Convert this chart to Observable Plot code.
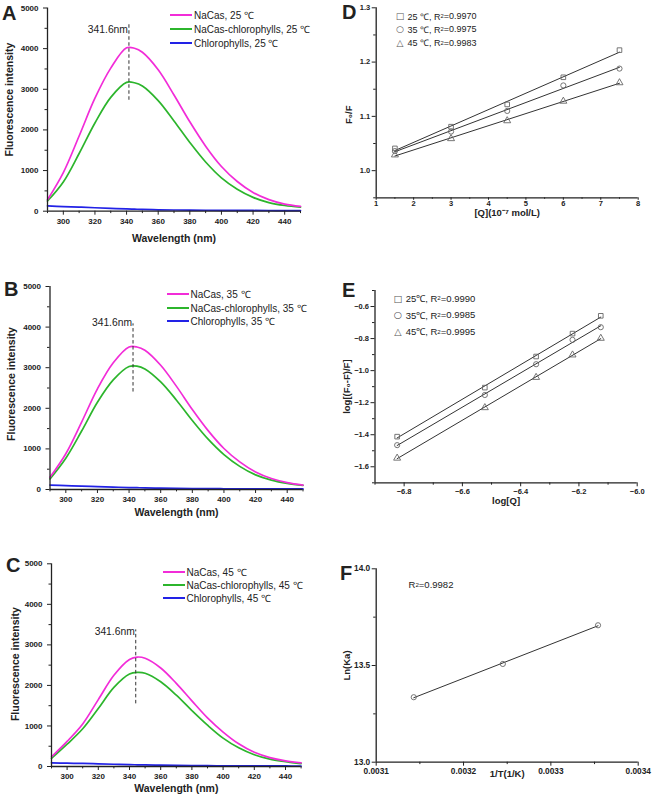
<!DOCTYPE html>
<html><head><meta charset="utf-8">
<script src="https://cdn.jsdelivr.net/npm/d3@7"></script>
<script src="https://cdn.jsdelivr.net/npm/@observablehq/plot@0.6"></script>
<style>
body{margin:0;background:#fff;}
#fig{position:relative;width:652px;height:798px;overflow:hidden;background:#fff;font-family:"Liberation Sans",Arial,Helvetica,sans-serif;color:#222;}
#fig svg{position:absolute;left:0;top:0;}
.plbl{position:absolute;font-weight:bold;font-size:20px;line-height:20px;}
.row{position:absolute;display:flex;align-items:center;white-space:nowrap;}
.sw{display:inline-block;height:0;border-top:2px solid;margin-right:2px;}
.sym{display:inline-block;width:10px;text-align:center;color:#555;font-family:"DejaVu Sans",sans-serif;}
sup{font-size:65%;vertical-align:0.45em;line-height:0;}
</style></head><body><div id="fig"></div>
<script>
const FONT = '"Liberation Sans", Arial, Helvetica, sans-serif';

// ---------- Panels A-C: fluorescence emission spectra ----------
const wavelength = [290,300,310,320,330,340,345,350,360,370,380,390,400,410,420,430,440,450];
const seriesNames = ["NaCas", "NaCas-chlorophylls", "Chlorophylls"];
const seriesColors = ["#f22cd8", "#2cb52c", "#2222e6"];
const temperatures = ["25 ℃", "35 ℃", "45 ℃"];

const nacas25 = [280, 950, 1850, 2780, 3520, 4020, 4010, 3910, 3480, 2860, 2200, 1600, 1100, 730, 460, 285, 175, 120];
const mix25   = [250, 720, 1420, 2170, 2800, 3170, 3160, 3080, 2720, 2220, 1690, 1210, 820, 540, 340, 210, 140, 100];
const chl25   = [130, 115, 100, 85, 70, 55, 50, 45, 35, 30, 26, 24, 22, 20, 18, 17, 16, 15];

const nacas35 = [300, 880, 1660, 2480, 3120, 3510, 3510, 3430, 3060, 2540, 1970, 1450, 1010, 680, 430, 270, 170, 110];
const mix35   = [260, 770, 1440, 2150, 2700, 3030, 3040, 2970, 2650, 2200, 1700, 1240, 860, 570, 360, 230, 150, 100];
const chl35   = [110, 95, 85, 72, 60, 48, 44, 40, 33, 28, 24, 21, 19, 17, 16, 15, 14, 13];

const nacas45 = [240, 620, 1050, 1650, 2250, 2640, 2700, 2670, 2430, 2050, 1620, 1200, 850, 560, 350, 220, 140, 90];
const mix45   = [200, 550, 930, 1430, 1950, 2280, 2320, 2300, 2090, 1760, 1380, 1020, 700, 460, 290, 180, 120, 70];
const chl45   = [90, 82, 75, 65, 55, 45, 42, 38, 32, 27, 23, 20, 18, 16, 15, 14, 13, 12];

const peakLabel = "341.6nm";
const peakX     = [341.5, 342.5, 344];
const dashLow   = [2730, 2400, 1545];
const dashHigh  = [4620, 4080, 3370];
const peakTextY = [4470, 4120, 3330];

const specXTicks = [300,320,340,360,380,400,420,440];
const specXMinor = [290,310,330,350,370,390,410,430,450];
const specYTicks = [0,1000,2000,3000,4000,5000];
const specYMinor = [500,1500,2500,3500,4500];

// ---------- Panel D: Stern-Volmer ----------
const qConc = [1.5, 3, 4.5, 6, 7.5];
const f0f25 = [1.041, 1.081, 1.122, 1.172, 1.222];
const f0f35 = [1.036, 1.072, 1.110, 1.157, 1.188];
const f0f45 = [1.029, 1.059, 1.092, 1.128, 1.162];
const dLegend = ["25 ℃, R<sup>2</sup>=0.9970", "35 ℃, R<sup>2</sup>=0.9975", "45 ℃, R<sup>2</sup>=0.9983"];
const dXTicks = [1,2,3,4,5,6,7,8];
const dXMinor = [1.5,2.5,3.5,4.5,5.5,6.5,7.5];
const dYTicks = [1.0,1.1,1.2,1.3];
const dYMinor = [0.95,1.05,1.15,1.25];

// ---------- Panel E: double log ----------
const logQ = [-6.824, -6.523, -6.347, -6.222, -6.125];
const dbl25 = [-1.412, -1.106, -0.912, -0.769, -0.658];
const dbl35 = [-1.465, -1.152, -0.960, -0.808, -0.729];
const dbl45 = [-1.546, -1.231, -1.042, -0.902, -0.798];
const eLegend = ["25℃, R<sup>2</sup>=0.9990", "35℃, R<sup>2</sup>=0.9985", "45℃, R<sup>2</sup>=0.9995"];
const eXTicks = [-6.8,-6.6,-6.4,-6.2,-6.0];
const eXMinor = [-6.9,-6.7,-6.5,-6.3,-6.1];
const eYTicks = [-1.6,-1.4,-1.2,-1.0,-0.8,-0.6];
const eYMinor = [-1.7,-1.5,-1.3,-1.1,-0.9,-0.7,-0.5];

// ---------- Panel F: van't Hoff ----------
const invT = [0.003143, 0.003245, 0.003354];
const lnKa = [13.336, 13.508, 13.708];
const fR2 = "R<sup>2</sup>=0.9982";
const fXTicks = [0.0031,0.0032,0.0033,0.0034];
const fXMinor = [0.00315,0.00325,0.00335];
const fYTicks = [13.0,13.5,14.0];
const fYMinor = [13.25,13.75];

const symbols = ["square", "circle", "triangle"];
const symbolGlyphs = ["□", "○", "△"];

const fig = document.getElementById("fig");

function panel(cfg) {
  const [x0, y0, x1, y1] = cfg.box;
  const svg = Plot.plot({
    width: 652, height: 798,
    marginLeft: x0, marginTop: y0, marginRight: 652 - x1, marginBottom: 798 - y1,
    x: {domain: cfg.xDomain, label: null},
    y: {domain: cfg.yDomain, label: null},
    style: {fontFamily: FONT, fontSize: cfg.tickFont + "px", fontWeight: "bold", color: "#222", background: "transparent", overflow: "visible"},
    marks: [
      ...cfg.marks,
      Plot.axisX(cfg.xMinor, {tickSize: cfg.xTick * 0.6, fill: "none", label: null}),
      Plot.axisX(cfg.xTicks, {tickSize: cfg.xTick, tickPadding: cfg.xPad, tickFormat: cfg.xFmt, label: null}),
      Plot.axisY(cfg.yMinor, {tickSize: 2.5, fill: "none", label: null}),
      Plot.axisY(cfg.yTicks, {tickSize: 4, tickPadding: cfg.yPad, tickFormat: cfg.yFmt, label: null}),
      Plot.ruleX(cfg.xDomain.slice(0, 1), {stroke: "#222", strokeWidth: 1.3}),
      Plot.ruleY(cfg.yDomain.slice(0, 1), {stroke: "#222", strokeWidth: 1.3}),
      Plot.text([cfg.xTitle], {text: d => d, frameAnchor: "bottom", dy: cfg.xTitleDy, textAnchor: "middle", lineAnchor: "middle", fontSize: cfg.titleFont, fontWeight: "bold"}),
      Plot.text([cfg.yTitle], {text: d => d, frameAnchor: "left", dx: cfg.yTitleDx, dy: cfg.yTitleDy, rotate: -90, textAnchor: "middle", lineAnchor: "middle", fontSize: cfg.titleFont, fontWeight: "bold"})
    ]
  });
  svg.style.position = "absolute";
  svg.style.left = "0px";
  svg.style.top = "0px";
  fig.appendChild(svg);
}

function letter(t, x, y) {
  const d = document.createElement("div");
  d.className = "plbl"; d.textContent = t;
  d.style.left = x + "px"; d.style.top = (y - 10) + "px";
  fig.appendChild(d);
}

function row(html, x, cy, fs) {
  const d = document.createElement("div");
  d.className = "row"; d.innerHTML = html;
  d.style.left = x + "px"; d.style.top = (cy - fs * 0.6) + "px";
  d.style.height = (fs * 1.2) + "px"; d.style.fontSize = fs + "px";
  fig.appendChild(d);
}

// spectra panels
const spectra = [[nacas25, mix25, chl25], [nacas35, mix35, chl35], [nacas45, mix45, chl45]];
const specBoxes = [[47, 7.5, 300, 210.7], [49.5, 286, 302.5, 489], [51, 563.3, 300.6, 766]];
const specTitleDy = [27.5, 23.5, 22.3];
const specYTitleDx = [-38, -38, -36];
const specYTitleDy = [-10, -4, -1];
const legendRows = [[15, 29.3, 42.7], [293.5, 307.7, 321.3], [571.7, 584.7, 597.7]];
const legendX = [170, 166.5, 162.5];

spectra.forEach((sets, p) => {
  const rows = [];
  sets.forEach((vals, s) => vals.forEach((v, i) => rows.push({wl: wavelength[i], v, series: seriesNames[s]})));
  const marks = [];
  [2, 1, 0].forEach(s => {
    marks.push(Plot.line(rows.filter(r => r.series === seriesNames[s]), {x: "wl", y: "v", stroke: seriesColors[s], strokeWidth: 1.7, curve: "catmull-rom"}));
  });
  const ann = [{x: peakX[p], lo: dashLow[p], hi: dashHigh[p], ty: peakTextY[p]}];
  marks.push(Plot.ruleX(ann, {x: "x", y1: "lo", y2: "hi", stroke: "#333", strokeWidth: 1, strokeDasharray: "3.5,2.5"}));
  marks.push(Plot.text(ann, {x: "x", y: "ty", text: () => peakLabel, textAnchor: "end", dx: -1, fontSize: 10.3, fontWeight: "normal"}));
  panel({
    box: specBoxes[p], xDomain: [290, 450], yDomain: [0, 5000],
    xTicks: specXTicks, xMinor: specXMinor, yTicks: specYTicks, yMinor: specYMinor,
    xFmt: d3.format("d"), yFmt: d3.format("d"), tickFont: 8, xTick: 4, xPad: 3, yPad: 5,
    xTitle: "Wavelength (nm)", yTitle: "Fluorescence intensity", titleFont: 10.5,
    xTitleDy: specTitleDy[p], yTitleDx: specYTitleDx[p], yTitleDy: specYTitleDy[p],
    marks
  });
  seriesNames.forEach((n, s) => {
    row(`<span class="sw" style="width:22px;border-color:${seriesColors[s]}"></span>${n}, ${temperatures[p]}`, legendX[p], legendRows[p][s], 10);
  });
});
letter("A", 2, 13); letter("B", 4, 289); letter("C", 6, 565);

// scatter + regression panels
function scatterMarks(xs, sets) {
  const marks = [];
  sets.forEach((ys, s) => {
    const pts = xs.map((x, i) => ({x, y: ys[i]}));
    marks.push(Plot.linearRegressionY(pts, {x: "x", y: "y", stroke: "#333", strokeWidth: 1, ci: 0}));
    marks.push(Plot.dot(pts, {x: "x", y: "y", symbol: symbols[s], r: 2.6, stroke: "#666", strokeWidth: 0.9, fill: "none"}));
  });
  return marks;
}

panel({
  box: [375.7, 7.3, 637.7, 197.3], xDomain: [1, 8], yDomain: [0.95, 1.3],
  xTicks: dXTicks, xMinor: dXMinor, yTicks: dYTicks, yMinor: dYMinor,
  xFmt: d3.format("d"), yFmt: d3.format(".1f"), tickFont: 7.5, xTick: 2.5, xPad: 0.5, yPad: 2,
  xTitle: "[Q](10⁻⁷ mol/L)", yTitle: "F₀/F", titleFont: 9.5,
  xTitleDy: 15, yTitleDx: -27, yTitleDy: 12,
  marks: scatterMarks(qConc, [f0f25, f0f35, f0f45])
});
dLegend.forEach((t, i) => row(`<span class="sym">${symbolGlyphs[i]}</span>&nbsp;${t}`, 395, [16, 29.3, 42.7][i], 9));
letter("D", 342, 12);

panel({
  box: [374.5, 290, 636.7, 482.3], xDomain: [-6.9, -6.0], yDomain: [-1.7, -0.5],
  xTicks: eXTicks, xMinor: eXMinor, yTicks: eYTicks, yMinor: eYMinor,
  xFmt: d3.format(".1f"), yFmt: d3.format(".1f"), tickFont: 7.5, xTick: 4, xPad: 2, yPad: 2,
  xTitle: "log[Q]", yTitle: "log[(F₀-F)/F]", titleFont: 9.5,
  xTitleDy: 18, yTitleDx: -28, yTitleDy: 0,
  marks: scatterMarks(logQ, [dbl25, dbl35, dbl45])
});
eLegend.forEach((t, i) => row(`<span class="sym">${symbolGlyphs[i]}</span>&nbsp;${t}`, 393, [298.3, 315, 331.7][i], 9.5));
letter("E", 342, 290);

panel({
  box: [375.7, 568.3, 637.7, 761.7], xDomain: [0.0031, 0.0034], yDomain: [13, 14],
  xTicks: fXTicks, xMinor: fXMinor, yTicks: fYTicks, yMinor: fYMinor,
  xFmt: d3.format(".4f"), yFmt: d3.format(".1f"), tickFont: 8.3, xTick: 4, xPad: 2, yPad: 2,
  xTitle: "1/T(1/K)", yTitle: "Ln(Ka)", titleFont: 9.5,
  xTitleDy: 12, yTitleDx: -29, yTitleDy: 0,
  marks: [
    Plot.linearRegressionY(invT.map((x, i) => ({x, y: lnKa[i]})), {x: "x", y: "y", stroke: "#333", strokeWidth: 1, ci: 0}),
    Plot.dot(invT.map((x, i) => ({x, y: lnKa[i]})), {x: "x", y: "y", symbol: "circle", r: 2.6, stroke: "#666", strokeWidth: 0.9, fill: "none"})
  ]
});
row(fR2, 408.5, 585, 9.5);
letter("F", 340, 573);
</script></body></html>
